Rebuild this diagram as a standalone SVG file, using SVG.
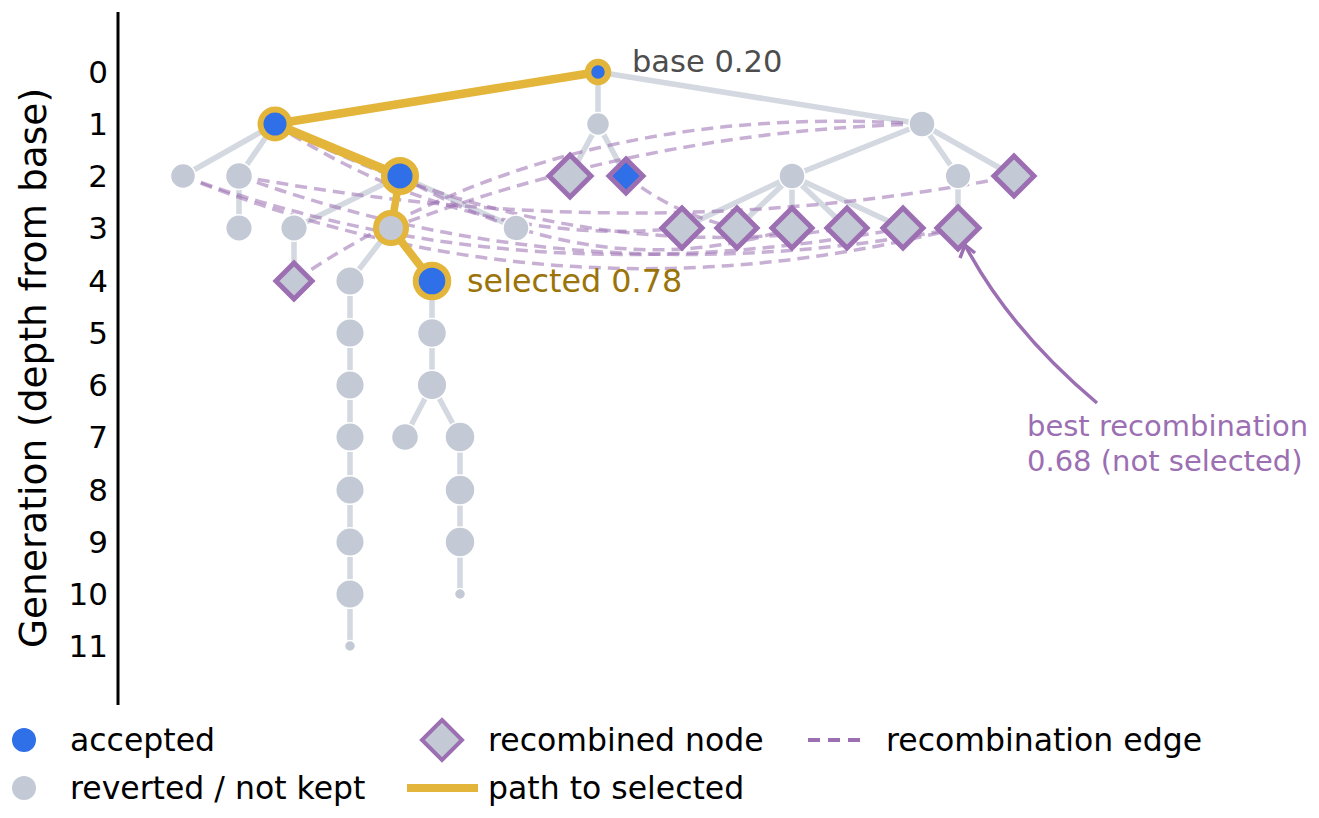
<svg xmlns="http://www.w3.org/2000/svg" width="1319" height="818" viewBox="0 0 1319 818">
<style>
text{font-family:"DejaVu Sans","Liberation Sans",sans-serif}
.tick{font-size:31px;fill:#000;text-anchor:end}
.leg{font-size:31.5px;fill:#000}
.e{stroke:#d4d9e1;stroke-width:5.5;fill:none}
.p{stroke:#e3b63b;fill:none;stroke-linecap:round}
.d{stroke:#9b6fb2;stroke-opacity:0.55;stroke-width:3.5;stroke-dasharray:12 7;fill:none}
.g{fill:#c3c9d5;stroke:#fff;stroke-width:1.5}
.b{fill:#2f6fe8;stroke:#e3b63b}
.dm{fill:#c3c9d5;stroke:#9b6fb2;stroke-width:5;stroke-linejoin:miter}
</style>
<rect width="1319" height="818" fill="#fff"/>
<g id="axis">
<line x1="118" y1="12" x2="118" y2="705" stroke="#000" stroke-width="3"/>
<text class="tick" x="108" y="83">0</text>
<text class="tick" x="108" y="135">1</text>
<text class="tick" x="108" y="187">2</text>
<text class="tick" x="108" y="239">3</text>
<text class="tick" x="108" y="292">4</text>
<text class="tick" x="108" y="344">5</text>
<text class="tick" x="108" y="396">6</text>
<text class="tick" x="108" y="448">7</text>
<text class="tick" x="108" y="501">8</text>
<text class="tick" x="108" y="553">9</text>
<text class="tick" x="108" y="605">10</text>
<text class="tick" x="108" y="657">11</text>
<text x="46" y="368" font-size="37.5" text-anchor="middle" transform="rotate(-90 46 368)">Generation (depth from base)</text>
</g>
<g id="connectors">
<path class="e" d="M598 72V124M598 72L922 124M275 124L183 176M275 124L239 176M598 124L570 176M598 124L626 176M922 124L792 176M922 124L958 176M922 124L1014 176M239 176V228M400 176L294 228M400 176L516 228M792 176L682 228M792 176L737 228M792 176V228M792 176L847 228M792 176L903 228M958 176V228M294 228V281M391 228L350 281M350 281V646M432 281V385L405 437M432 385L460 437V594"/>
<path class="d" d="M922 124Q560 100 294 281"/>
<path class="d" d="M922 124Q650 130 391 228"/>
<path class="d" d="M183 176Q560 330 958 228"/>
<path class="d" d="M183 176Q520 300 903 228"/>
<path class="d" d="M239 176Q580 300 958 228"/>
<path class="d" d="M239 176Q640 250 1014 176"/>
<path class="d" d="M275 124Q470 250 682 228"/>
<path class="d" d="M275 124Q560 270 847 228"/>
<path class="d" d="M626 176Q675 215 737 228"/>
<path class="d" d="M400 176Q600 290 792 228"/>
<path class="p" stroke-width="8.5" d="M598 72L275 124"/>
<path class="p" stroke-width="9" d="M275 124L400 176"/>
<path class="p" stroke-width="7.5" d="M400 176L391 228"/>
<path class="p" stroke-width="8" d="M391 228L432 281"/>
</g>
<g id="n0"><circle class="b" cx="598" cy="72" r="10" stroke-width="6.5"/></g>
<g id="n1a"><circle class="b" cx="275" cy="124" r="14.5" stroke-width="6"/></g>
<g id="n1b"><circle class="g" cx="598" cy="124" r="11.5"/></g>
<g id="n1c"><circle class="g" cx="922" cy="124" r="13"/></g>
<g id="n2a"><circle class="g" cx="183" cy="176" r="12.5"/></g>
<g id="n2b"><circle class="g" cx="239" cy="176" r="13.5"/></g>
<g id="n2c"><circle class="b" cx="400" cy="176" r="15.8" stroke-width="6.5"/></g>
<g id="n2d"><path class="dm" d="M570 155L591 176L570 197L549 176Z"/></g>
<g id="n2e"><path class="dm" style="fill:#2f6fe8" d="M626 159L643 176L626 193L609 176Z"/></g>
<g id="n2f"><circle class="g" cx="792" cy="176" r="13"/></g>
<g id="n2g"><circle class="g" cx="958" cy="176" r="12.8"/></g>
<g id="n2h"><path class="dm" d="M1014 156L1034 176L1014 196L994 176Z"/></g>
<g id="n3a"><circle class="g" cx="239" cy="228" r="13.3"/></g>
<g id="n3b"><circle class="g" cx="294" cy="228" r="13.3"/></g>
<g id="n3c"><circle cx="391" cy="228" r="15" fill="#c3c9d5" stroke="#e3b63b" stroke-width="6"/></g>
<g id="n3d"><circle class="g" cx="516" cy="228" r="13"/></g>
<g id="n3e"><path class="dm" d="M682 208L702 228L682 248L662 228Z"/></g>
<g id="n3f"><path class="dm" d="M737 208L757 228L737 248L717 228Z"/></g>
<g id="n3g"><path class="dm" d="M792 208L812 228L792 248L772 228Z"/></g>
<g id="n3h"><path class="dm" d="M847 208L867 228L847 248L827 228Z"/></g>
<g id="n3i"><path class="dm" d="M903 208L923 228L903 248L883 228Z"/></g>
<g id="n3j"><path class="dm" d="M958 207L979 228L958 249L937 228Z"/></g>
<g id="n4a"><path class="dm" d="M294 263L312 281L294 299L276 281Z"/></g>
<g id="n4b"><circle class="g" cx="350" cy="281" r="14.3"/></g>
<g id="n4c"><circle class="b" cx="432" cy="281" r="16.3" stroke-width="6"/></g>
<g id="n5a"><circle class="g" cx="350" cy="333" r="14.3"/></g>
<g id="n5b"><circle class="g" cx="432" cy="333" r="14.5"/></g>
<g id="n6a"><circle class="g" cx="350" cy="385" r="14.3"/></g>
<g id="n6b"><circle class="g" cx="432" cy="385" r="14.8"/></g>
<g id="n7a"><circle class="g" cx="350" cy="437" r="14.3"/></g>
<g id="n7b"><circle class="g" cx="405" cy="437" r="13.5"/></g>
<g id="n7c"><circle class="g" cx="460" cy="437" r="15"/></g>
<g id="n8a"><circle class="g" cx="350" cy="490" r="14.3"/></g>
<g id="n8b"><circle class="g" cx="460" cy="490" r="15"/></g>
<g id="n9a"><circle class="g" cx="350" cy="542" r="14.3"/></g>
<g id="n9b"><circle class="g" cx="460" cy="542" r="15"/></g>
<g id="n10a"><circle class="g" cx="350" cy="594" r="14.3"/></g>
<g id="n10b"><circle class="g" cx="460" cy="594" r="5.5"/></g>
<g id="n11a"><circle class="g" cx="350" cy="646" r="5.5"/></g>
<g id="labels">
<text x="632" y="72" font-size="30.5" fill="#4d4d4d">base 0.20</text>
<text x="467" y="292" font-size="31.8" fill="#9a7409">selected 0.78</text>
<path d="M1097 403Q1010 330 965 245" fill="none" stroke="#9b6fb2" stroke-width="3.5"/>
<path d="M960 258L965 245L975 253" fill="none" stroke="#9b6fb2" stroke-width="3.5"/>
<text x="1027" y="436" font-size="29" fill="#9b6fb2">best recombination</text>
<text x="1027" y="471" font-size="29" fill="#9b6fb2">0.68 (not selected)</text>
</g>
<g id="legend">
<circle cx="24" cy="740" r="12" fill="#2f6fe8"/>
<text class="leg" x="70" y="751">accepted</text>
<circle cx="24" cy="788" r="12" fill="#c3c9d5"/>
<text class="leg" x="70" y="799">reverted / not kept</text>
<path class="dm" d="M442 720L462 740L442 760L422 740Z" style="stroke-width:4"/>
<text class="leg" x="488" y="751">recombined node</text>
<line x1="407" y1="788" x2="478" y2="788" stroke="#e3b63b" stroke-width="8"/>
<text class="leg" x="488" y="799">path to selected</text>
<line x1="808" y1="740" x2="864" y2="740" stroke="#9b6fb2" stroke-width="4" stroke-dasharray="12 8"/>
<text class="leg" x="886" y="751">recombination edge</text>
</g>
</svg>
